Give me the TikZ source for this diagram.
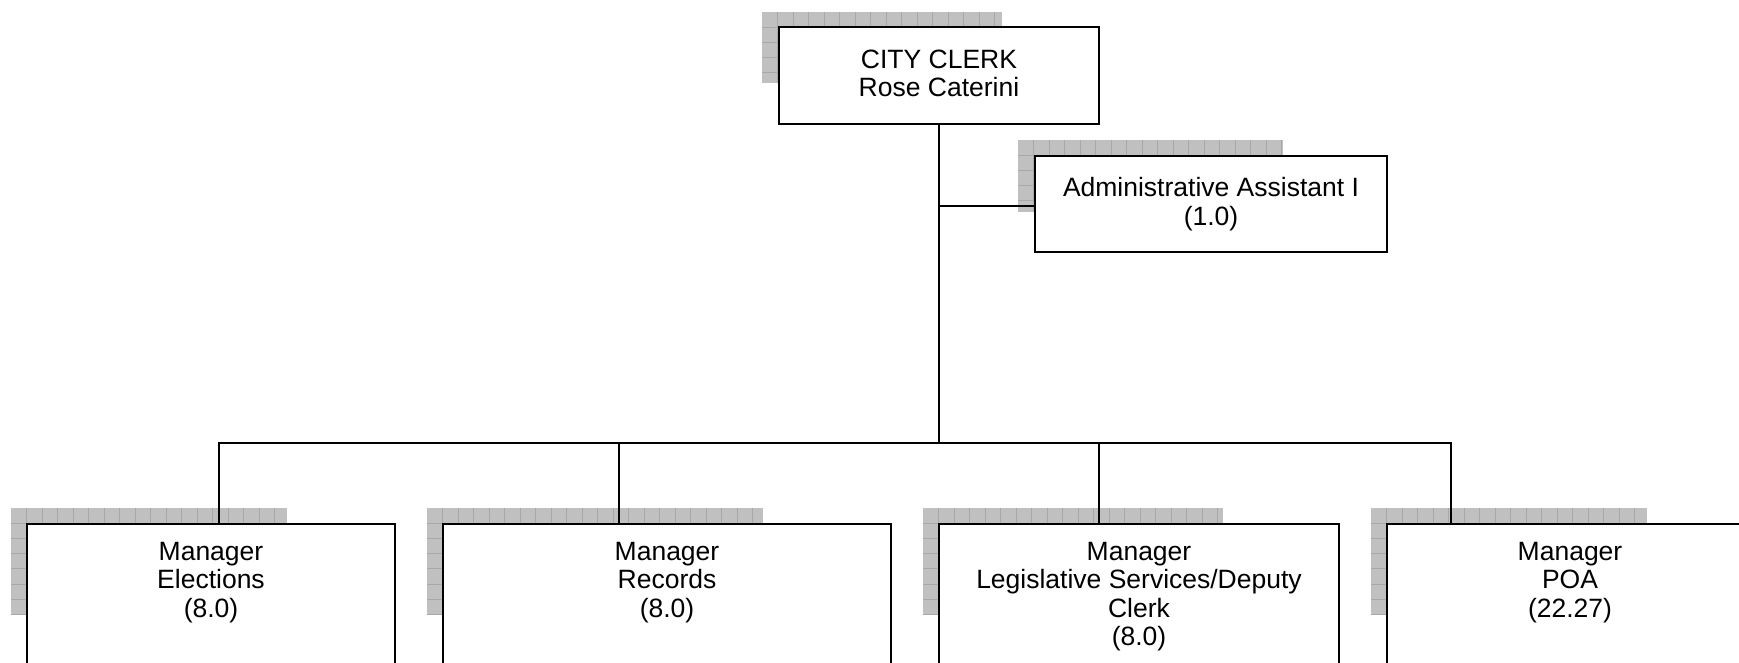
\documentclass[tikz,border=0pt]{standalone}
\usepackage{fontspec}
\setmainfont{Liberation Sans}
\definecolor{shadowgray}{HTML}{C0C0C0}
\definecolor{gridgray}{HTML}{A8A8A8}
\tikzset{
  orgbox/.style={draw=black, line width=2pt, fill=white, inner sep=0pt, align=center},
  orgtext/.style={inner sep=0pt, align=center, anchor=north},
  conn/.style={draw=black, line width=2pt},
  shadowfill/.style={fill=shadowgray},
  gridline/.style={draw=gridgray, line width=1pt},
}
\newcommand\shadowgrid[4]{%
  \begin{scope}
    \clip (#1,#2) rectangle (#3,#4);
    \fill[shadowfill] (#1,#2) rectangle (#3,#4);
    \foreach \k in {1,...,24}{\draw[gridline] ({#1+15.5*\k},#2) -- ({#1+15.5*\k},#4);}
    \foreach \k in {1,...,8}{\draw[gridline] (#1,{#2+15.2*\k}) -- (#3,{#2+15.2*\k});}
  \end{scope}}
\begin{document}
\begin{tikzpicture}[x=1pt,y=-1pt, every node/.style={font=\fontsize{26.5pt}{28.3pt}\selectfont}]
\useasboundingbox (0,0) rectangle (1739,663);
\clip (0,0) rectangle (1739,663);
\fill[white] (0,0) rectangle (1739,663);

% shadows
\shadowgrid{762}{12}{1002}{83}
\shadowgrid{1018}{140}{1283}{212}
\shadowgrid{11}{508}{287}{615}
\shadowgrid{427}{508}{763}{615}
\shadowgrid{923}{508}{1223}{615}
\shadowgrid{1371}{508}{1647}{615}

% connector coordinates
\coordinate (j) at (939,443);
\coordinate (ja) at (939,206);
\coordinate (c1) at (219,443);
\coordinate (c2) at (619,443);
\coordinate (c3) at (1099,443);
\coordinate (c4) at (1451,443);

% boxes
\node[orgbox, minimum width=320pt, minimum height=97pt, text depth=5pt] (clerk) at (939,75.5) {CITY CLERK\\Rose Caterini};
\node[orgbox, minimum width=352pt, minimum height=96pt] (admin) at (1211,204) {Administrative Assistant I\\(1.0)};

\draw[conn] (clerk.south) -- (j);
\draw[conn] (ja) -- (ja -| admin.west);

\node[orgbox, minimum width=368pt, minimum height=176pt] (elec) at (211,612) {};
\node[orgbox, minimum width=448pt, minimum height=176pt] (rec) at (667,612) {};
\node[orgbox, minimum width=400pt, minimum height=176pt] (leg) at (1139,612) {};
\node[orgbox, minimum width=366pt, minimum height=176pt] (poa) at (1570,612) {};

\draw[conn] (c1 |- elec.north) -- (c1) -- (c4) -- (c4 |- poa.north);
\draw[conn] (c2) -- (c2 |- rec.north);
\draw[conn] (c3) -- (c3 |- leg.north);

\node[orgtext] (elect) at ([yshift=-19pt]elec.north) {Manager\\Elections\\(8.0)};
\node[orgtext] (rect) at ([yshift=-19pt]rec.north) {Manager\\Records\\(8.0)};
\node[orgtext] (legt) at ([yshift=-19pt]leg.north) {Manager\\Legislative Services/Deputy\\Clerk\\(8.0)};
\node[orgtext] (poat) at ([yshift=-19pt]poa.north) {Manager\\POA\\(22.27)};
\end{tikzpicture}
\end{document}
